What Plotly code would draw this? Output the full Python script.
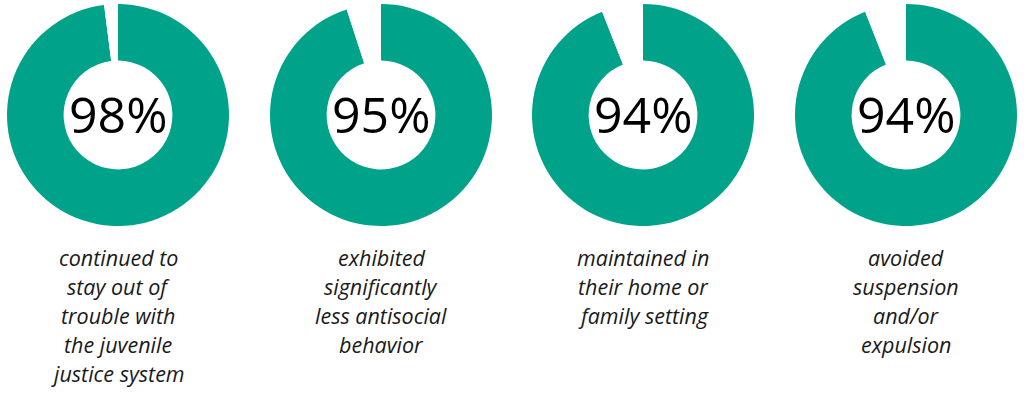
import plotly.graph_objects as go

percents = [98, 95, 94, 94]
pct_labels = ["98%", "95%", "94%", "94%"]
captions = [
    ["continued to", "stay out of", "trouble with", "the juvenile", "justice system"],
    ["exhibited", "significantly", "less antisocial", "behavior"],
    ["maintained in", "their home or", "family setting"],
    ["avoided", "suspension", "and/or", "expulsion"],
]

TEAL = "#00A389"
W, H = 1024, 397
centers_x = [118, 381, 643, 906]
center_y = 115
R = 111

fig = go.Figure()
annotations = []
for i, p in enumerate(percents):
    cx = centers_x[i]
    fig.add_trace(go.Pie(
        values=[p, 100 - p],
        marker=dict(colors=[TEAL, "#FFFFFF"], line=dict(width=0)),
        hole=0.49,
        sort=False,
        direction="clockwise",
        rotation=0,
        textinfo="none",
        hoverinfo="skip",
        showlegend=False,
        domain=dict(x=[(cx - R) / W, (cx + R) / W],
                    y=[(H - center_y - R) / H, (H - center_y + R) / H]),
    ))
    annotations.append(dict(
        x=cx / W, y=(H - center_y + 1) / H, xref="paper", yref="paper",
        text=pct_labels[i], showarrow=False, xanchor="center", yanchor="middle",
        font=dict(family="Open Sans", size=50, color="#000000"),
    ))
    for j, line in enumerate(captions[i]):
        ly = 257 + j * 29.2
        annotations.append(dict(
            x=cx / W, y=(H - ly) / H, xref="paper", yref="paper",
            text="<i>" + line + "</i>", showarrow=False, xanchor="center", yanchor="middle",
            font=dict(family="Open Sans", size=21.5, color="#1a1a1a"),
        ))

fig.update_layout(
    width=W, height=H,
    margin=dict(l=0, r=0, t=0, b=0),
    paper_bgcolor="#FFFFFF", plot_bgcolor="#FFFFFF",
    annotations=annotations,
)
fig.write_html(
    "out.html",
    config={"displayModeBar": False},
    post_script="document.body.style.margin='0';document.body.style.overflow='hidden';",
)
